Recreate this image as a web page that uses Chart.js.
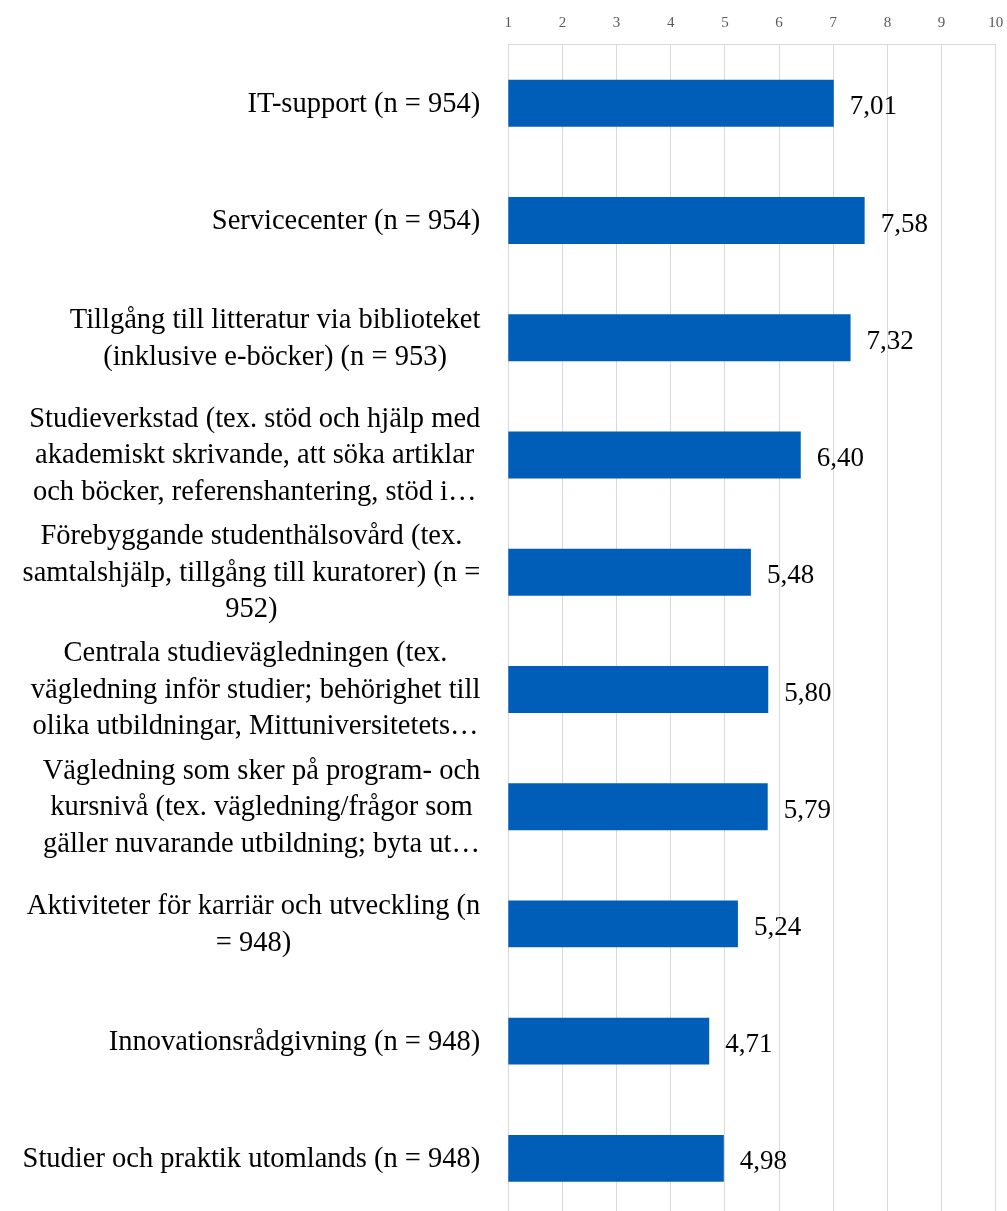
<!DOCTYPE html>
<html>
<head>
<meta charset="utf-8">
<script src="https://cdn.jsdelivr.net/npm/chart.js@4/dist/chart.umd.min.js"></script>
<style>
html,body{margin:0;padding:0;background:#fff;overflow:hidden;}
#wrap{width:1007px;height:1217px;position:relative;}
</style>
</head>
<body>
<div id="wrap"><canvas id="c" width="1007" height="1217"></canvas></div>
<script>
const categories = [
  ["IT-support (n = 954)"],
  ["Servicecenter (n = 954)"],
  ["Tillgång till litteratur via biblioteket", "(inklusive e-böcker) (n = 953)"],
  ["Studieverkstad (tex. stöd och hjälp med", "akademiskt skrivande, att söka artiklar", "och böcker, referenshantering, stöd i…"],
  ["Förebyggande studenthälsovård (tex.", "samtalshjälp, tillgång till kuratorer) (n =", "952)"],
  ["Centrala studievägledningen (tex.", "vägledning inför studier; behörighet till", "olika utbildningar, Mittuniversitetets…"],
  ["Vägledning som sker på program- och", "kursnivå (tex. vägledning/frågor som", "gäller nuvarande utbildning; byta ut…"],
  ["Aktiviteter för karriär och utveckling (n", "= 948)"],
  ["Innovationsrådgivning (n = 948)"],
  ["Studier och praktik utomlands (n = 948)"]
];
const values = [7.01, 7.58, 7.32, 6.40, 5.48, 5.80, 5.79, 5.24, 4.71, 4.98];
const valueLabels = ["7,01", "7,58", "7,32", "6,40", "5,48", "5,80", "5,79", "5,24", "4,71", "4,98"];
const xTicks = [1, 2, 3, 4, 5, 6, 7, 8, 9, 10];

const SERIF = "'Liberation Serif', 'DejaVu Serif', serif";
const LABEL_FONT = "28.5px " + SERIF;
const VALUE_FONT = "27px " + SERIF;

const labelPlugin = {
  id: 'customLabels',
  afterDraw(chart) {
    const ctx = chart.ctx;
    const y = chart.scales.y;
    const meta = chart.getDatasetMeta(0);
    ctx.save();
    ctx.fillStyle = '#000';
    ctx.textBaseline = 'middle';
    const lh = 36.5;
    const rightEdge = chart.chartArea.left - 28;
    categories.forEach((lines, i) => {
      const cy = y.getPixelForTick(i);
      ctx.font = LABEL_FONT;
      let maxW = 0;
      lines.forEach(l => { maxW = Math.max(maxW, ctx.measureText(l).width); });
      const cx = rightEdge - maxW / 2;
      ctx.textAlign = 'center';
      const startY = cy - (lines.length - 1) * lh / 2;
      lines.forEach((l, k) => ctx.fillText(l, cx, startY + k * lh + 1));
      const bar = meta.data[i];
      ctx.font = VALUE_FONT;
      ctx.textAlign = 'left';
      ctx.fillText(valueLabels[i], bar.x + 16, bar.y + 4);
    });
    ctx.restore();
  }
};

new Chart(document.getElementById('c'), {
  type: 'bar',
  data: {
    labels: categories.map(c => c.join(' ')),
    datasets: [{
      data: values,
      backgroundColor: '#005EB8',
      borderWidth: 0,
      barPercentage: 0.4,
      categoryPercentage: 1
    }]
  },
  options: {
    indexAxis: 'y',
    responsive: false,
    animation: false,
    events: [],
    layout: { padding: { left: 0, right: 11.3, top: 0, bottom: 0 } },
    plugins: { legend: { display: false }, tooltip: { enabled: false } },
    scales: {
      x: {
        position: 'top',
        min: 1, max: 10,
        afterBuildTicks(scale) { scale.ticks = xTicks.map(v => ({ value: v })); },
        afterFit(scale) { scale.height = 44.7; scale.paddingLeft = 0; scale.paddingRight = 0; },
        grid: { color: '#d9d9d9', lineWidth: 1, drawTicks: false },
        border: { color: '#d9d9d9', width: 1 },
        ticks: { color: '#595959', font: { family: SERIF, size: 15 }, padding: 13 }
      },
      y: {
        ticks: { display: false },
        afterFit(scale) { scale.width = 508.3; },
        grid: { display: false, drawTicks: false },
        border: { color: '#d9d9d9', width: 1 }
      }
    }
  },
  plugins: [labelPlugin]
});
</script>
</body>
</html>
